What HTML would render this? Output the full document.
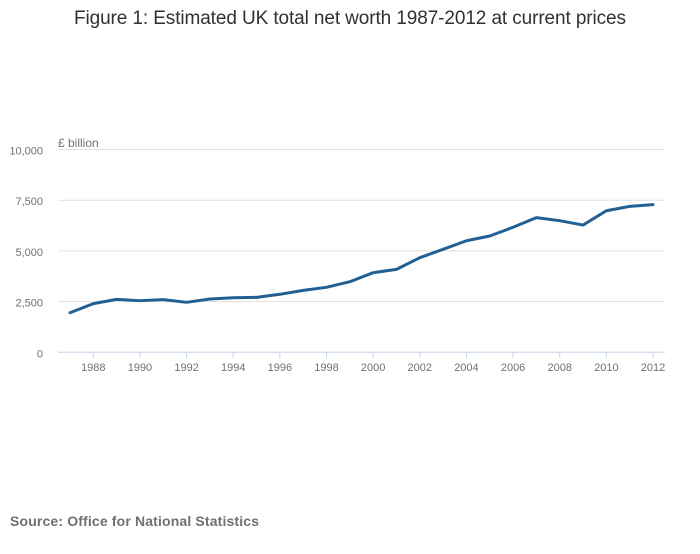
<!DOCTYPE html>
<html><head><meta charset="utf-8"><style>
body{margin:0;background:#fff;font-family:"Liberation Sans",sans-serif;}
svg text{font-family:"Liberation Sans",sans-serif;}
</style></head><body>
<svg width="700" height="549" xmlns="http://www.w3.org/2000/svg">
<text x="350" y="24" text-anchor="middle" font-size="19" fill="#323132" textLength="552">Figure 1: Estimated UK total net worth 1987-2012 at current prices</text>
<text x="58" y="147" font-size="12" fill="#707071">£ billion</text>
<g id="grid"></g><g id="xaxis"></g><g id="series"></g>
<text x="10" y="526" font-size="14" font-weight="bold" fill="#707071" textLength="249">Source: Office for National Statistics</text>
</svg>
<script>
const years=[1987,1988,1989,1990,1991,1992,1993,1994,1995,1996,1997,1998,1999,2000,2001,2002,2003,2004,2005,2006,2007,2008,2009,2010,2011,2012];
const netWorth=[1950,2400,2610,2545,2595,2465,2630,2690,2710,2860,3055,3205,3480,3925,4090,4665,5080,5500,5735,6165,6640,6490,6275,6980,7195,7280];
const yTicks=[0,2500,5000,7500,10000];
const yTickLabels=["0","2,500","5,000","7,500","10,000"];
const xTickYears=[1988,1990,1992,1994,1996,1998,2000,2002,2004,2006,2008,2010,2012];
const NS="http://www.w3.org/2000/svg";
const X=y=>70+(y-1987)*(583/25);
const Y=v=>352.3-v*(202.8/10000);
function mk(t,a,p){const e=document.createElementNS(NS,t);for(const k in a)e.setAttribute(k,a[k]);p.appendChild(e);return e;}
const g=document.getElementById('grid');
yTicks.forEach((v,i)=>{
 const l=mk('line',{x1:58,x2:665,y1:Y(v),y2:Y(v),stroke:i===0?'#c6d3e8':'#e1e1e1','stroke-width':1},g);
 
 
 const t=mk('text',{x:43,y:Y(v)+5,'text-anchor':'end','font-size':11,fill:'#707071'},g);
 t.textContent=yTickLabels[i];
 
 
});
const xa=document.getElementById('xaxis');
xTickYears.forEach(yr=>{
 const l=mk('line',{x1:X(yr),x2:X(yr),y1:352.3,y2:358,stroke:'#c6d3e8','stroke-width':1},xa);
 
 
 const t=mk('text',{x:X(yr),y:371,'text-anchor':'middle','font-size':11,fill:'#707071'},xa);
 t.textContent=yr;
 
 
});
const s=document.getElementById('series');
const p=mk('polyline',{points:years.map((y,i)=>X(y)+','+Y(netWorth[i])).join(' '),fill:'none',stroke:'#206095','stroke-width':3,'stroke-linejoin':'round','stroke-linecap':'round'},s);


</script>
</body></html>
